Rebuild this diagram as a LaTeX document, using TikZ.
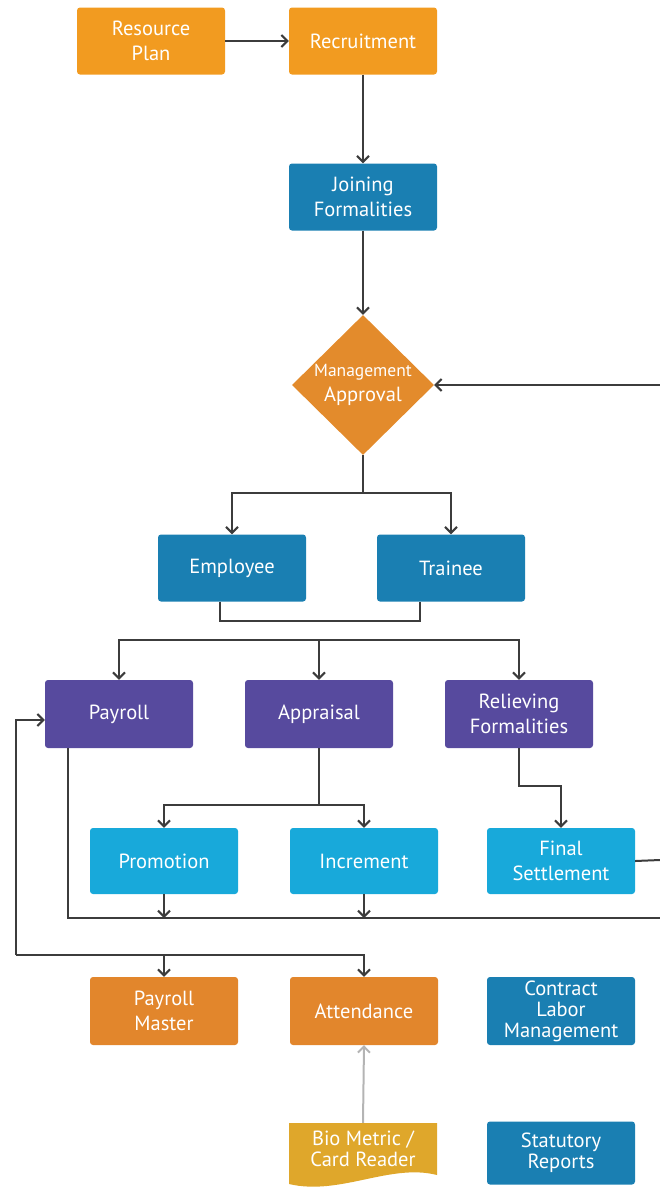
\documentclass[tikz,border=0pt]{standalone}
\usepackage{fontspec}
\setmainfont{PT Sans}
\usetikzlibrary{arrows.meta,shapes.geometric,calc}
\definecolor{orA}{HTML}{F29B20}
\definecolor{orB}{HTML}{E2862C}
\definecolor{blA}{HTML}{1A7FB2}
\definecolor{diaC}{HTML}{E38B2C}
\definecolor{puC}{HTML}{574A9E}
\definecolor{lbC}{HTML}{18A9DA}
\definecolor{goldC}{HTML}{DFA72B}
\definecolor{lineC}{HTML}{3C3C3C}
\definecolor{greyC}{HTML}{B4B4B4}
\begin{document}
\begin{tikzpicture}[x=1pt,y=-1pt,
  box/.style={rectangle, rounded corners=3pt, minimum width=148pt, minimum height=67pt,
    inner sep=2pt, text=white, align=center, font=\fontsize{20.5}{24.5}\selectfont},
  tightbox/.style={box, font=\fontsize{20.5}{21}\selectfont},
  dia/.style={diamond, fill=diaC, minimum width=142pt, minimum height=140pt, inner sep=0pt,
    text=white, align=center, font=\fontsize{20.5}{25}\selectfont},
  conn/.style={draw=lineC, line width=2pt},
  arr/.style={conn, -{Straight Barb[length=6pt,width=12pt]}},
  garr/.style={draw=greyC, line width=2pt, -{Straight Barb[length=6pt,width=12pt]}},
]
\useasboundingbox (0,0) rectangle (660,1187);

% nodes
\node[box, fill=orA] (rp) at (151,41) {Resource\\Plan};
\node[box, fill=orA] (rec) at (363,41) {Recruitment};
\node[box, fill=blA] (jf) at (363,197) {Joining\\Formalities};
\node[dia] (ma) at (363,385) {{\fontsize{17.5}{20}\selectfont Management}\\Approval};
\node[box, fill=blA] (emp) at (232,568) {Employee};
\node[box, fill=blA] (tr) at (451,568) {Trainee};
\node[box, fill=puC, minimum height=68pt] (pay) at (119,714) {Payroll};
\node[box, fill=puC, minimum height=68pt] (app) at (319,714) {Appraisal};
\node[box, fill=puC, minimum height=68pt] (rel) at (519,714) {Relieving\\Formalities};
\node[box, fill=lbC, minimum height=66pt] (pro) at (164,861) {Promotion};
\node[box, fill=lbC, minimum height=66pt] (inc) at (364,861) {Increment};
\node[box, fill=lbC, minimum height=66pt] (fs) at (561,861) {Final\\Settlement};
\node[box, fill=orB, minimum height=68pt] (pm) at (164,1011) {Payroll\\Master};
\node[box, fill=orB, minimum height=68pt] (att) at (364,1011) {Attendance};
\node[tightbox, fill=blA, minimum height=68pt] (clm) at (561,1011) {Contract\\Labor\\Management};
\node[tightbox, fill=blA, minimum height=63pt] (sr) at (561,1153) {Statutory\\Reports};

% document shape
\fill[goldC] (289,1123) -- (437,1123) -- (437,1175)
  .. controls (390,1163) and (340,1196) .. (289,1184) -- cycle;
\node[inner sep=0pt, minimum width=148pt, minimum height=52pt, text=white, align=center,
  font=\fontsize{20.5}{21}\selectfont] (bio) at (363,1149) {Bio Metric /\\Card Reader};

% helper coordinates
\coordinate (eR1) at (660,385);
\coordinate (eR2) at (660,860);
\coordinate (eR3) at (660,918);
\coordinate (j1) at (363,493);
\coordinate (d1) at (319,640);
\coordinate (a1) at (319,805);
\coordinate (fbL) at (16,955);

% connectors
\draw[arr] (rp) -- (rec);
\draw[arr] (rec) -- (jf);
\draw[arr] (jf) -- (ma);
\draw[arr] (eR1) -- (ma.east);
\draw[conn] (ma.south) -- (j1);
\draw[arr] (j1) -| (emp.north);
\draw[arr] (j1) -| (tr.north);
\draw[conn] ([xshift=-12pt]emp.south) -- ++(0,19) -| ([xshift=-31pt]tr.south);
\draw[arr] (d1) -| (pay.north);
\draw[arr] (d1) -- (app.north);
\draw[arr] (d1) -| (rel.north);
\draw[conn] (app.south) -- (a1);
\draw[arr] (a1) -| (pro.north);
\draw[arr] (a1) -| (inc.north);
\draw[arr] (rel.south) -- ++(0,38) -| (fs.north);
\draw[conn] (fs.east) -- (eR2);
\draw[conn] ([xshift=-51pt]pay.south) |- (eR3);
\draw[arr] (pro.south) -- (pro.south |- eR3);
\draw[arr] (inc.south) -- (inc.south |- eR3);
\draw[arr] (fbL) |- ([yshift=-6pt]pay.west);
\draw[arr] (fbL) -| (pm.north);
\draw[arr] (fbL) -| (att.north);
\draw[garr] (bio.north) -- (att.south);
\end{tikzpicture}
\end{document}
